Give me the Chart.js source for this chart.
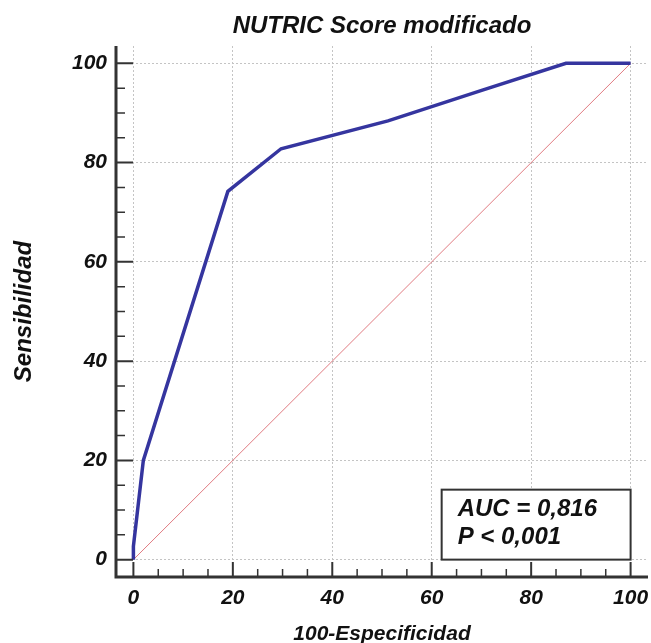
<!DOCTYPE html>
<html>
<head>
<meta charset="utf-8">
<title>NUTRIC Score modificado</title>
<script src="https://cdn.jsdelivr.net/npm/chart.js@4/dist/chart.umd.min.js"></script>
<style>
  html, body { margin: 0; padding: 0; background: #fff; }
  #wrap { width: 651px; height: 643px; position: relative; }
</style>
</head>
<body>
<div id="wrap"><canvas id="rocChart"></canvas></div>
<script>
// ROC curve points (100-Especificidad vs Sensibilidad)
const fpr = [0, 0, 2, 19, 29.7, 51.2, 70.2, 87, 100];
const tpr = [0, 2.7, 20, 74.2, 82.8, 88.4, 94.6, 100, 100];
// reference diagonal
const diagX = [0, 100];
const diagY = [0, 100];
// axis ticks
const majorTicks = [0, 20, 40, 60, 80, 100];
const minorTicks = [5, 10, 15, 25, 30, 35, 45, 50, 55, 65, 70, 75, 85, 90, 95];
const statLines = ['AUC = 0,816', 'P < 0,001'];

const FONT = "'Liberation Sans', Arial, sans-serif";
const axisColor = '#333333';

function toPoints(xs, ys) {
    return xs.map((x, i) => ({ x: x, y: ys[i] }));
}

// Axis lines, inner tick marks and the AUC box
const axisPlugin = {
    id: 'axisPlugin',
    afterDatasetsDraw(chart) {
        const { ctx, chartArea, scales } = chart;
        const xs = scales.x, ys = scales.y;
        ctx.save();
        ctx.strokeStyle = axisColor;
        ctx.lineCap = 'butt';

        // axis lines
        ctx.lineWidth = 3;
        ctx.beginPath();
        ctx.moveTo(chartArea.left, chartArea.top);
        ctx.lineTo(chartArea.left, chartArea.bottom);
        ctx.lineTo(chartArea.right, chartArea.bottom);
        ctx.stroke();

        // ticks
        ctx.lineWidth = 2;
        ctx.beginPath();
        majorTicks.forEach(v => {
            const py = ys.getPixelForValue(v);
            ctx.moveTo(chartArea.left, py);
            ctx.lineTo(chartArea.left + 17, py);
            const px = xs.getPixelForValue(v);
            ctx.moveTo(px, chartArea.bottom);
            ctx.lineTo(px, chartArea.bottom - 15);
        });
        ctx.stroke();
        ctx.lineWidth = 1.5;
        ctx.beginPath();
        minorTicks.forEach(v => {
            const py = ys.getPixelForValue(v);
            ctx.moveTo(chartArea.left, py);
            ctx.lineTo(chartArea.left + 9, py);
            const px = xs.getPixelForValue(v);
            ctx.moveTo(px, chartArea.bottom);
            ctx.lineTo(px, chartArea.bottom - 8);
        });
        ctx.stroke();

        // AUC box
        const bx1 = xs.getPixelForValue(62);
        const bx2 = xs.getPixelForValue(100);
        const by1 = ys.getPixelForValue(14.1);
        const by2 = ys.getPixelForValue(0);
        ctx.fillStyle = '#fff';
        ctx.fillRect(bx1, by1, bx2 - bx1, by2 - by1);
        ctx.lineWidth = 2;
        ctx.strokeRect(bx1, by1, bx2 - bx1, by2 - by1);
        ctx.fillStyle = '#111';
        ctx.font = 'italic bold 24px ' + FONT;
        ctx.textAlign = 'left';
        ctx.textBaseline = 'middle';
        ctx.fillText(statLines[0], bx1 + 16, by1 + 20);
        ctx.fillText(statLines[1], bx1 + 16, by1 + 48);
        ctx.restore();
    }
};

const ctx = document.getElementById('rocChart').getContext('2d');
const rocChart = new Chart(ctx, {
    type: 'scatter',
    data: {
        datasets: [{
            label: 'Diagonal',
            data: toPoints(diagX, diagY),
            showLine: true,
            borderColor: '#e07a80',
            borderWidth: 1,
            pointRadius: 0,
            order: 2
        }, {
            label: 'NUTRIC Score modificado',
            data: toPoints(fpr, tpr),
            showLine: true,
            borderColor: '#35359f',
            borderWidth: 3.5,
            pointRadius: 0,
            tension: 0,
            order: 1
        }]
    },
    options: {
        responsive: true,
        maintainAspectRatio: false,
        animation: false,
        layout: {
            padding: { left: 0, right: 3, top: 0, bottom: 0 }
        },
        plugins: {
            legend: { display: false },
            tooltip: { enabled: false },
            title: {
                display: true,
                fullSize: false,
                text: 'NUTRIC Score modificado',
                color: '#111',
                font: { family: FONT, size: 24, style: 'italic', weight: 'bold', lineHeight: 1.1 },
                padding: { top: 13, bottom: 6.6 }
            }
        },
        scales: {
            x: {
                type: 'linear',
                min: -3.5,
                max: 103.5,
                afterBuildTicks: scale => { scale.ticks = majorTicks.map(v => ({ value: v })); },
                afterFit: scale => {
                    scale.height = 66;
                    scale.paddingLeft = 0;
                    scale.paddingRight = 0;
                },
                border: { display: false, dash: [2, 2] },
                grid: {
                    drawTicks: false,
                    color: '#c4c4c4',
                    lineWidth: 1
                },
                ticks: {
                    padding: 9,
                    color: '#111',
                    maxRotation: 0,
                    font: { family: FONT, size: 21, style: 'italic', weight: 'bold' }
                },
                title: {
                    display: true,
                    text: '100-Especificidad',
                    color: '#111',
                    font: { family: FONT, size: 21, style: 'italic', weight: 'bold', lineHeight: 1 },
                    padding: { top: 0, bottom: -2 }
                }
            },
            y: {
                type: 'linear',
                min: -3.5,
                max: 103.5,
                afterBuildTicks: scale => { scale.ticks = majorTicks.map(v => ({ value: v })); },
                afterFit: scale => {
                    scale.width = 116;
                    scale.paddingTop = 0;
                    scale.paddingBottom = 0;
                },
                border: { display: false, dash: [2, 2] },
                grid: {
                    drawTicks: false,
                    color: '#c4c4c4',
                    lineWidth: 1
                },
                ticks: {
                    padding: 9,
                    color: '#111',
                    font: { family: FONT, size: 21, style: 'italic', weight: 'bold' }
                },
                title: {
                    display: true,
                    text: 'Sensibilidad',
                    color: '#111',
                    font: { family: FONT, size: 24, style: 'italic', weight: 'bold', lineHeight: 1.2 },
                    padding: { top: 10, bottom: 0 }
                }
            }
        }
    },
    plugins: [axisPlugin]
});
</script>
</body>
</html>
